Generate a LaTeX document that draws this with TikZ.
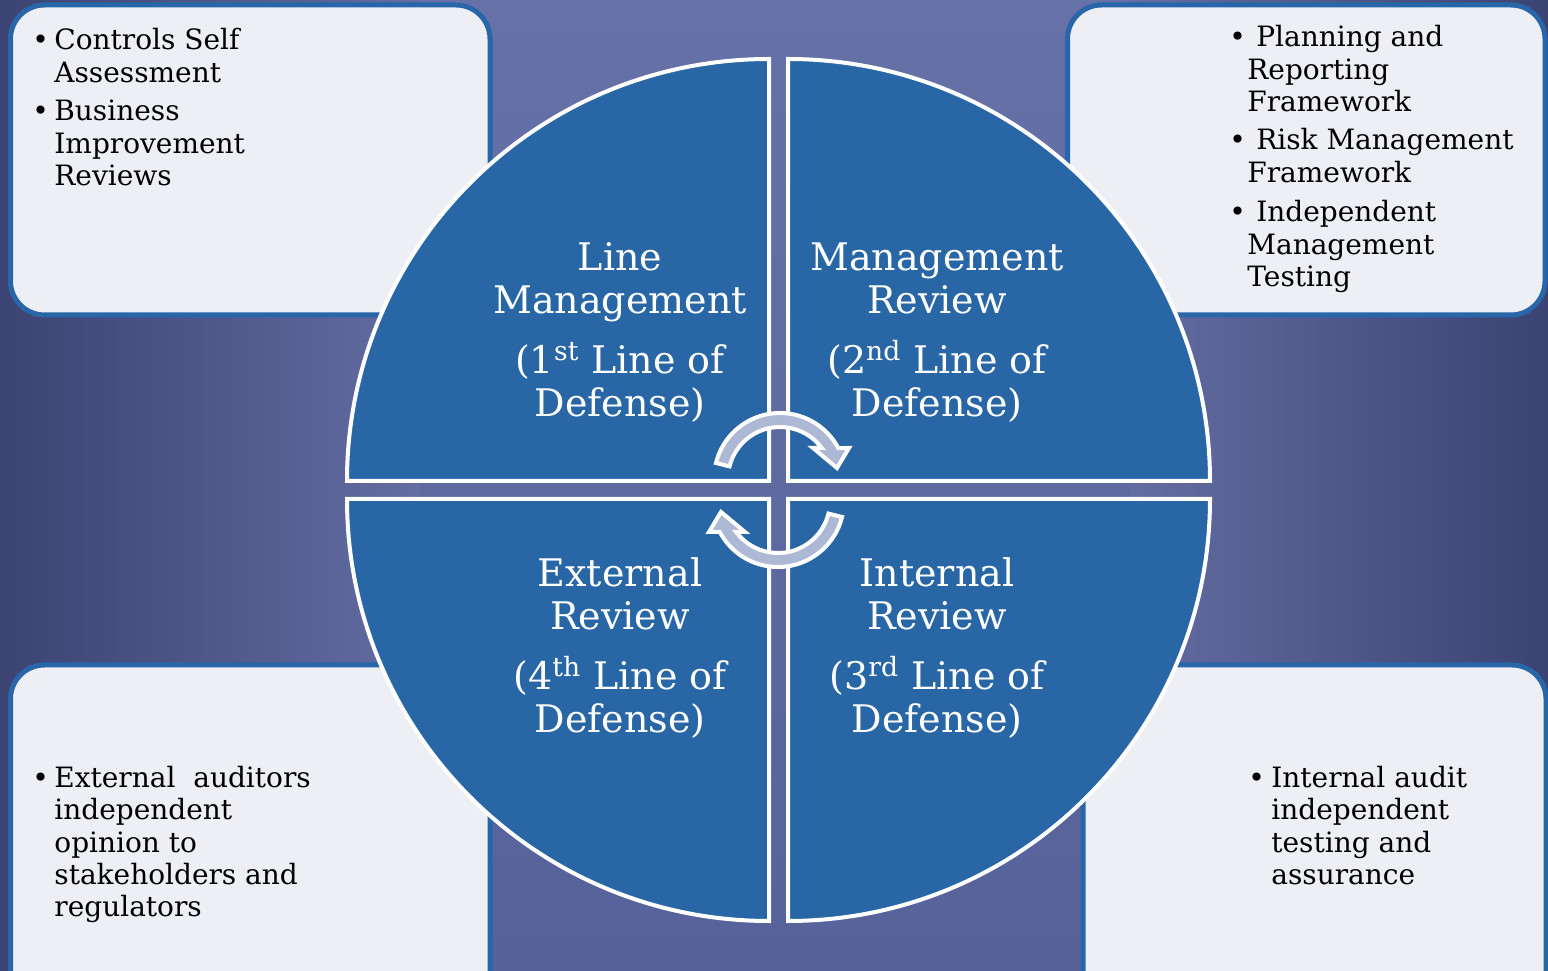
\documentclass[tikz,border=0pt]{standalone}
\usepackage{fontspec}
\setmainfont{DejaVu Serif}
\definecolor{bgedge}{HTML}{3B4372}
\definecolor{bgmid}{HTML}{636DA2}
\definecolor{bgtop}{HTML}{6672A7}
\definecolor{bgbot}{HTML}{57619A}
\definecolor{boxline}{HTML}{2766A8}
\definecolor{boxfill}{HTML}{EEEFF4}
\definecolor{quadfill}{HTML}{2866A6}
\definecolor{turnfill}{HTML}{ADB9D4}
\newcommand\bul[2][11pt]{\makebox[#1][l]{\textbullet}\begin{tabular}[t]{@{}l@{}}#2\end{tabular}}

\begin{document}
\begin{tikzpicture}[x=0.5pt,y=0.5pt,
  infobox/.style={draw=boxline,fill=boxfill,line width=2.5pt,rounded corners=17pt},
  quadrant/.style={draw=white,fill=quadfill,line width=2pt},
  cyclearrow/.style={draw=white,fill=turnfill,line width=2pt,line join=miter},
  bullettext/.style={inner sep=0pt,anchor=base west,font=\fontsize{14}{16.25}\selectfont},
  quadtext/.style={text=white,align=center,inner sep=0pt,font=\fontsize{19}{21.5}\selectfont}]
\useasboundingbox (0,0) rectangle (1548,970);
\clip (0,0) rectangle (1548,970);
% background
\shade[left color=bgedge,right color=bgmid] (0,0) rectangle (420,970);
\shade[top color=bgtop,bottom color=bgbot] (420,0) rectangle (1130,970);
\shade[left color=bgmid,right color=bgedge] (1130,0) rectangle (1548,970);
% side boxes
\draw[infobox] (10.5,655) rectangle (490,965);
\draw[infobox] (1067.5,655) rectangle (1545,965);
\draw[infobox] (10.5,-40) rectangle (490,305);
\draw[infobox] (1083,-40) rectangle (1546,305);
% the four quarters
\draw[quadrant] (769,489) -- (347,489) arc[start angle=180,end angle=90,radius=422] -- cycle;
\draw[quadrant] (788,489) -- (788,911) arc[start angle=90,end angle=0,radius=422] -- cycle;
\draw[quadrant] (769,471) -- (769,49) arc[start angle=270,end angle=180,radius=422] -- cycle;
\draw[quadrant] (788,471) -- (1210,471) arc[start angle=0,end angle=-90,radius=422] -- cycle;
% quarter texts
\node[quadtext] (line) at (620,637.5) {Line\\Management\\[8.5pt](1\textsuperscript{st} Line of\\Defense)};
\node[quadtext] (mgmt) at (937,637.5) {Management\\Review\\[8.5pt](2\textsuperscript{nd} Line of\\Defense)};
\node[quadtext] (extr) at (620,322) {External\\Review\\[8.5pt](4\textsuperscript{th} Line of\\Defense)};
\node[quadtext] (intr) at (937,322) {Internal\\Review\\[8.5pt](3\textsuperscript{rd} Line of\\Defense)};
% round arrows
\foreach \cx/\cy/\rot in {780/491/0,778/469/180}
  \draw[cyclearrow,shift={(\cx,\cy)},rotate=\rot] (166:66) arc[start angle=166,end angle=28,radius=66]
    -- (69,31) -- (57,11) -- (33,31) -- (36.6:52) arc[start angle=36.6,end angle=166,radius=52] -- cycle;
% box texts
\node[bullettext] (csa) at (32,920) {\bul{Controls Self\\Assessment}};
\node[bullettext] (bir) at (32,849) {\bul{Business\\Improvement\\Reviews}};
\node[bullettext] (prf) at (1229,923) {\bul[9pt]{\ Planning and\\Reporting\\Framework}};
\node[bullettext] (rmf) at (1229,820) {\bul[9pt]{\ Risk Management\\Framework}};
\node[bullettext] (imt) at (1229,748) {\bul[9pt]{\ Independent\\Management\\Testing}};
\node[bullettext] (ext) at (32,183) {\bul{External\ \ auditors\\independent\\opinion to\\stakeholders and\\regulators}};
\node[bullettext] (iat) at (1248,183) {\bul[11.5pt]{Internal audit\\independent\\testing and\\assurance}};
\end{tikzpicture}
\end{document}
